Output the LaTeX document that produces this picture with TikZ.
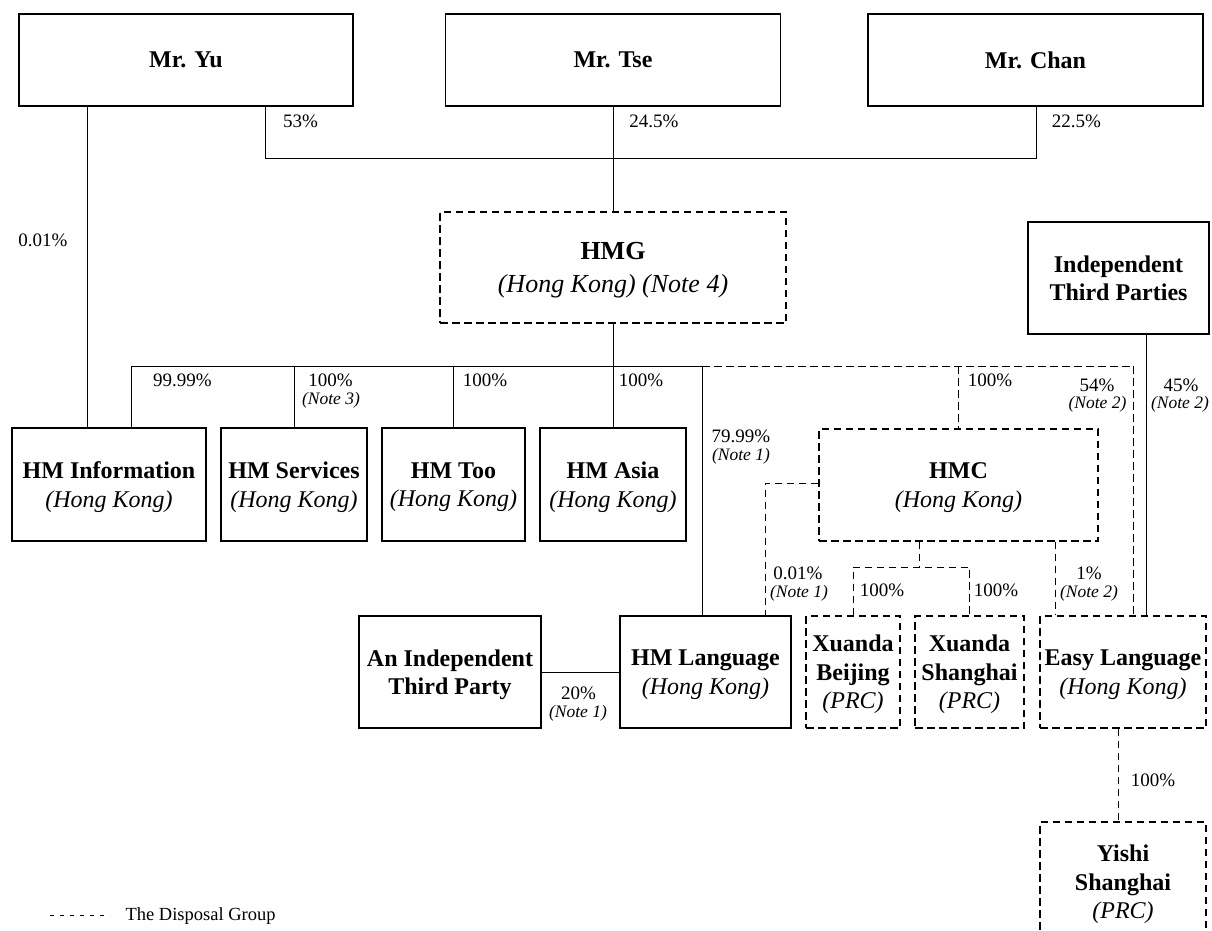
\documentclass[tikz,border=0pt]{standalone}
\usepackage{fontspec}
\setmainfont{Liberation Serif}
\begin{document}
\begin{tikzpicture}[x=1pt,y=-1pt,
  line width=1pt,
  ent/.style={draw, line width=1.1pt, inner sep=0pt, align=center, text depth=0pt,
    font=\fontsize{24}{28.5}\selectfont\bfseries},
  dbox/.style={ent, dash pattern=on 7.5pt off 4.5pt},
  dsh/.style={dash pattern=on 7.5pt off 4.5pt},
  pct/.style={inner sep=0pt, font=\fontsize{19}{22}\selectfont},
  note/.style={inner sep=0pt, font=\fontsize{17.5}{20}\selectfont\itshape},
]
\newcommand{\hk}[1]{{\mdseries\itshape #1}}
\useasboundingbox[fill=white] (0,0) rectangle (1212,930);

% top row
\node[ent, minimum width=334pt, minimum height=92pt] (yu) at (186,60) {Mr. Yu};
\node[ent, minimum width=335pt, minimum height=92pt] (tse) at (613,60) {Mr. Tse};
\node[ent, minimum width=335pt, minimum height=92pt] (chan) at (1035.5,60) {Mr. Chan};

% HMG and independent third parties
\node[dbox, minimum width=346pt, minimum height=111pt,
  font=\fontsize{26}{33.5}\selectfont\bfseries] (hmg) at (613,267.5)
  {HMG\\\hk{(Hong Kong) (Note 4)}};
\node[ent, minimum width=181pt, minimum height=112pt] (itp) at (1118.5,278)
  {Independent\\Third Parties};

% second row
\node[ent, minimum width=194pt, minimum height=113pt] (hminfo) at (109,484.5)
  {HM Information\\\hk{(Hong Kong)}};
\node[ent, minimum width=146pt, minimum height=113pt] (hmserv) at (294,484.5)
  {HM Services\\\hk{(Hong Kong)}};
\node[ent, minimum width=143pt, minimum height=113pt] (hmtoo) at (453.5,484.5)
  {HM Too\\\hk{(Hong Kong)}};
\node[ent, minimum width=146pt, minimum height=113pt] (hmasia) at (613,484.5)
  {HM Asia\\\hk{(Hong Kong)}};
\node[dbox, minimum width=279pt, minimum height=112pt] (hmc) at (958.5,485)
  {HMC\\\hk{(Hong Kong)}};

% third row
\node[ent, minimum width=182pt, minimum height=112pt] (aitp) at (450,672)
  {An Independent\\Third Party};
\node[ent, minimum width=171pt, minimum height=112pt] (hmlang) at (705.5,672)
  {HM Language\\\hk{(Hong Kong)}};
\node[dbox, minimum width=94pt, minimum height=112pt] (xb) at (853,672)
  {Xuanda\\Beijing\\\hk{(PRC)}};
\node[dbox, minimum width=109pt, minimum height=112pt] (xs) at (969.5,672)
  {Xuanda\\Shanghai\\\hk{(PRC)}};
\node[dbox, minimum width=166pt, minimum height=112pt] (easy) at (1123,672)
  {Easy Language\\\hk{(Hong Kong)}};
\node[dbox, minimum width=166pt, minimum height=120pt] (yishi) at (1123,882)
  {Yishi\\Shanghai\\\hk{(PRC)}};

% helper coordinates
\coordinate (xyu) at (87,0);
\coordinate (x53) at (265,0);
\coordinate (x225) at (1036,0);
\coordinate (bar) at (0,158);
\coordinate (busL) at (131,366);
\coordinate (busM) at (702,366);
\coordinate (busR) at (1133,366);
\coordinate (xitp) at (1146,0);
\coordinate (xhmcl) at (765,0);
\coordinate (xhmcm) at (919,0);
\coordinate (xhmcr) at (1055,0);
\coordinate (xq) at (0,567);
\coordinate (xys) at (1118,0);
\coordinate (hw) at ([yshift=2pt]hmc.west);

% shareholders to HMG
\draw (yu.south -| xyu) -- (hminfo.north -| xyu);
\draw (yu.south -| x53) -- (x53 |- bar) -- (x225 |- bar) -- (chan.south -| x225);
\draw (tse.south) -- (tse.south |- hmg.north);

% HMG to subsidiaries
\draw (hmg.south) -- (hmg.south |- busL);
\draw (busL) -- (busM);
\draw[dsh] (busM) -- (busR);
\draw (busL) -- (hminfo.north -| busL);
\draw (hmserv.north |- busL) -- (hmserv.north);
\draw (hmtoo.north |- busL) -- (hmtoo.north);
\draw (hmasia.north |- busL) -- (hmasia.north);
\draw (busM) -- (hmlang.north -| busM);
\draw[dsh] (hmc.north |- busL) -- (hmc.north);
\draw[dsh] (busR) -- (easy.north -| busR);
\draw (itp.south -| xitp) -- (easy.north -| xitp);

% HMC links
\draw[dsh] (hw) -- (xhmcl |- hw) -- (hmlang.north -| xhmcl);
\draw[dsh] (hmc.south -| xhmcm) -- (xhmcm |- xq);
\draw[dsh] (xb.north) -- (xb.north |- xq) -- (xs.north |- xq) -- (xs.north);
\draw[dsh] (hmc.south -| xhmcr) -- (easy.north -| xhmcr);
\draw (aitp.east) -- (hmlang.west);
\draw[dsh] (easy.south -| xys) -- (yishi.north -| xys);

% percentages
\node[pct] (p1) at (300.5,121.5) {53\%};
\node[pct] (p2) at (654,121.5) {24.5\%};
\node[pct] (p3) at (1076.5,121.5) {22.5\%};
\node[pct] (p4) at (43,240) {0.01\%};
\node[pct] (p5) at (182.5,380) {99.99\%};
\node[pct] (p6) at (330.5,380) {100\%};
\node[note] (n6) at (331,400) {(Note 3)};
\node[pct] (p7) at (485,380) {100\%};
\node[pct] (p8) at (641,380) {100\%};
\node[pct] (p9) at (990,380) {100\%};
\node[pct] (p10) at (1097,385) {54\%};
\node[note] (n10) at (1097.5,404) {(Note 2)};
\node[pct] (p11) at (1181,385) {45\%};
\node[note] (n11) at (1180,404) {(Note 2)};
\node[pct] (p12) at (741,436) {79.99\%};
\node[note] (n12) at (741,456) {(Note 1)};
\node[pct] (p13) at (798,573) {0.01\%};
\node[note] (n13) at (799,593) {(Note 1)};
\node[pct] (p14) at (882,590) {100\%};
\node[pct] (p15) at (996,590) {100\%};
\node[pct] (p16) at (1089,573) {1\%};
\node[note] (n16) at (1089,593) {(Note 2)};
\node[pct] (p17) at (578.5,693) {20\%};
\node[note] (n17) at (578,713) {(Note 1)};
\node[pct] (p18) at (1153,780) {100\%};

% legend
\coordinate (lg1) at (50,915);
\coordinate (lg2) at (110,915);
\draw[line width=0.8pt, dash pattern=on 4pt off 6pt] (lg1) -- (lg2);
\node[anchor=west, inner sep=0pt, font=\fontsize{18.5}{20}\selectfont] (lgt) at (125,916) {The Disposal Group};
\end{tikzpicture}
\end{document}
